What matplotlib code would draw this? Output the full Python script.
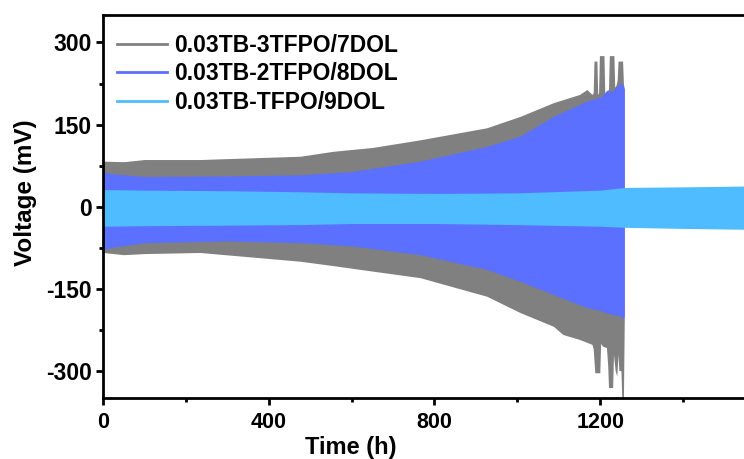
import matplotlib
matplotlib.use("Agg")
import matplotlib.pyplot as plt
import numpy as np
from matplotlib.ticker import MultipleLocator
from matplotlib.lines import Line2D

plt.rcParams['font.family'] = ['Liberation Sans', 'DejaVu Sans']
plt.rcParams['font.weight'] = 'bold'
plt.rcParams['axes.unicode_minus'] = False

# enveloppes (temps en h, tension en mV)
t_gris = [0, 50, 100, 234, 476, 555, 650, 765, 926, 1007, 1087, 1150, 1168, 1180,
          1183, 1185, 1192, 1194, 1196, 1198, 1209, 1211, 1215, 1220, 1222, 1233, 1235,
          1238, 1241, 1243, 1254, 1256, 1258]
haut_gris = [83, 82, 86, 86, 92, 101, 108, 122, 144, 165, 190, 205, 214, 205,
             208, 266, 266, 205, 208, 276, 276, 208, 212, 214, 276, 276, 218,
             222, 232, 266, 266, 225, 215]
t_gris_bas = [0, 50, 100, 234, 476, 555, 650, 765, 926, 1007, 1087, 1110, 1150, 1180,
              1183, 1187, 1199, 1201, 1205, 1215, 1218, 1220, 1230, 1232, 1236, 1240,
              1243, 1245, 1250, 1252, 1256, 1258]
bas_gris = [-84, -88, -86, -84, -100, -108, -118, -130, -164, -194, -219, -234, -243, -252,
            -260, -304, -304, -250, -255, -258, -290, -331, -331, -270, -300, -310,
            -270, -300, -300, -350, -350, -210]

t_bleu = [0, 20, 100, 300, 476, 600, 765, 926, 1007, 1087, 1168, 1200, 1215, 1230,
          1245, 1250, 1256, 1258]
haut_bleu = [64, 60, 55, 56, 58, 64, 83, 110, 129, 165, 193, 200, 211, 212,
             223, 228, 219, 215]
bas_bleu = [-79, -75, -66, -63, -66, -72, -88, -115, -137, -161, -185, -190, -195, -197,
            -200, -200, -205, -200]

t_cyan = [0, 100, 300, 476, 600, 800, 1000, 1200, 1260, 1400, 1600]
haut_cyan = [31, 30, 29, 27, 25, 24, 25, 30, 35, 36, 38]
bas_cyan = [-36, -35, -34, -33, -31, -31, -33, -36, -38, -40, -42]

noms = ['0.03TB-3TFPO/7DOL', '0.03TB-2TFPO/8DOL', '0.03TB-TFPO/9DOL']
couleurs = ['#808080', '#5c70ff', '#4fbcff']

fig = plt.figure(figsize=(7.44, 4.59), dpi=100)
ax = fig.add_axes([0.1385, 0.133, 0.891, 0.834])

tg = np.union1d(t_gris, t_gris_bas)
ax.fill_between(tg, np.interp(tg, t_gris, haut_gris), np.interp(tg, t_gris_bas, bas_gris),
                color=couleurs[0], lw=0)
ax.fill_between(t_bleu, haut_bleu, bas_bleu, color=couleurs[1], lw=0)
ax.fill_between(t_cyan, haut_cyan, bas_cyan, color=couleurs[2], lw=0)

ax.set_xlim(0, 1600)
ax.set_ylim(-350, 350)
ax.xaxis.set_major_locator(MultipleLocator(400))
ax.xaxis.set_minor_locator(MultipleLocator(200))
ax.yaxis.set_major_locator(MultipleLocator(150))
ax.yaxis.set_minor_locator(MultipleLocator(75))
ax.set_xticks([0, 400, 800, 1200])
ax.tick_params(which='major', direction='out', length=5, width=2)
ax.tick_params(which='minor', direction='out', length=3, width=2)
ax.tick_params(axis='y', labelsize=16.5, pad=3)
ax.tick_params(axis='x', labelsize=15.5, pad=5)
for s in ax.spines.values():
    s.set_linewidth(2)

ax.set_xlabel('Time (h)', fontsize=17, fontweight='bold')
ax.set_ylabel('Voltage (mV)', fontsize=17.5, fontweight='bold')
ax.xaxis.set_label_coords(0.374, -0.1)
ax.yaxis.set_label_coords(-0.1, 0.535)

poignees = [Line2D([0], [0], color=c, lw=2) for c in couleurs]
ax.legend(poignees, noms, loc='upper left', frameon=False, fontsize=16.5,
          handlelength=2.2, handletextpad=0.3, labelspacing=0.25,
          borderpad=0, borderaxespad=0.0, bbox_to_anchor=(0.021, 0.952))

fig.savefig('out.png', dpi=100)
